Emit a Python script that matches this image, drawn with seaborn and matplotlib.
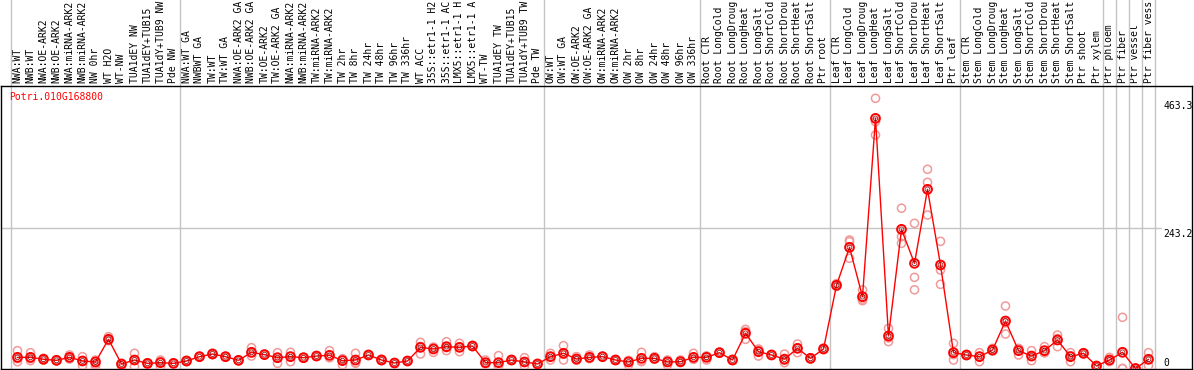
import numpy as np
import pandas as pd
import matplotlib
matplotlib.use("Agg")
import matplotlib.pyplot as plt
import seaborn as sns

title = "Potri.010G168800"

# labels as they appear (clipped to 14 characters in the reference)
categories = [
    "NWA:WT", "NWB:WT", "NWA:OE-ARK2", "NWB:OE-ARK2", "NWA:miRNA-ARK2", "NWB:miRNA-ARK2",
    "NW 0hr", "WT H2O", "WT-NW", "TUA1dEY NW", "TUA1dEY+TUB15", "TUA1dY+TUB9 NW", "Pde NW",
    "NWA:WT GA", "NWBWT GA", "TW:WT", "TW:WT GA", "NWA:OE-ARK2 GA", "NWB:OE-ARK2 GA",
    "TW:OE-ARK2", "TW:OE-ARK2 GA", "NWA:miRNA-ARK2", "NWB:miRNA-ARK2", "TW:miRNA-ARK2",
    "TW:miRNA-ARK2", "TW 2hr", "TW 8hr", "TW 24hr", "TW 48hr", "TW 96hr", "TW 336hr",
    "WT ACC", "35S::etr1-1 H2", "35S::etr1-1 AC", "LMX5::etr1-1 H", "LMX5::etr1-1 A",
    "WT-TW", "TUA1dEY TW", "TUA1dEY+TUB15", "TUA1dY+TUB9 TW", "Pde TW",
    "OW:WT", "OW:WT GA", "OW:OE-ARK2", "OW:OE-ARK2 GA", "OW:miRNA-ARK2", "OW:miRNA-ARK2",
    "OW 2hr", "OW 8hr", "OW 24hr", "OW 48hr", "OW 96hr", "OW 336hr",
    "Root CTR", "Root LongCold", "Root LongDroug", "Root LongHeat", "Root LongSalt",
    "Root ShortCold", "Root ShortDrou", "Root ShortHeat", "Root ShortSalt", "Ptr root",
    "Leaf CTR", "Leaf LongCold", "Leaf LongDroug", "Leaf LongHeat", "Leaf LongSalt",
    "Leaf ShortCold", "Leaf ShortDrou", "Leaf ShortHeat", "Leaf ShortSalt", "Ptr leaf",
    "Stem CTR", "Stem LongCold", "Stem LongDroug", "Stem LongHeat", "Stem LongSalt",
    "Stem ShortCold", "Stem ShortDrou", "Stem ShortHeat", "Stem ShortSalt", "Ptr shoot",
    "Ptr xylem", "Ptr phloem", "Ptr fiber", "Ptr vessel", "Ptr fiber vess",
]

means = [
    19.3, 19.3, 16, 14.1, 19.3, 13, 11.3, 50.5, 7.8, 14.7, 8.9, 10.1, 8.9,
    13, 20.5, 25.1, 20.5, 14.1, 28, 24, 18.7, 20.5, 18.7, 21.6, 22.8, 13.6, 14.7,
    23.4, 14.7, 9.5, 13, 36.6, 33.8, 37.8, 36.6, 38.9, 10.1, 10.1, 14.7, 11.3, 7.8,
    20.5, 26.3, 16.4, 19.3, 20.5, 14.7, 11.3, 17.6, 17.6, 11.3, 11.8, 19.3,
    19.3, 27.4, 14.7, 60.9, 29.1, 23.4, 16.2, 34.9, 17.6, 33.8,
    144, 209.7, 124.3, 433, 56.3, 240.9, 182, 310.1, 179.2, 27.4,
    23.4, 20.5, 32, 82.2, 30.9, 21.6, 30.9, 49.3, 20.5, 26.3, 4.3,
    14.7, 28, 0, 15.9,
]

replicates = [
    [30.9, 11.8, 17], [27.4, 13.6, 17], [17.6, 14.7, 16], [15, 13.6, 14], [23.4, 16.4, 19],
    [20.5, 4.9, 13], [14.7, 7.2, 3.2], [55.1, 48.2, 50], [0.3, 8, 6], [26.3, 3.2, 14.7],
    [9.5, 7.8, 8.9], [14.7, 3.2, 12], [8.9, 8.5, 9.5],
    [13, 12, 14], [21, 20, 20.5], [26.3, 24, 25], [21, 19.5, 20.5], [14.7, 13.6, 14.1],
    [36.1, 21.6, 27], [25, 23.4, 24], [27.4, 8.9, 19], [28, 11.8, 21], [19.3, 18, 18.7],
    [22.2, 21, 21.6], [30.9, 19, 18.7], [6.1, 16, 17], [26.3, 9, 10], [24, 23, 23.4],
    [16, 13.6, 14.7], [10, 9, 9.5], [13.6, 12.5, 13], [45.3, 25.1, 38], [28, 36, 37],
    [46.4, 30.9, 36], [43.6, 29.1, 37], [40, 38, 38.9], [14.7, 8, 7.8], [22.2, 3.2, 5],
    [15.5, 14, 14.7], [18.7, 4.3, 11], [8.5, 7.2, 7.8],
    [14.7, 26.3, 20.5], [39.5, 14.7, 24.5], [20.5, 14, 15], [23.4, 17, 18], [21, 20, 20.5],
    [15.5, 14, 14.7], [6.1, 14, 13.5], [28, 11.8, 13], [20.5, 16, 16.5], [14.7, 6.1, 13],
    [14.7, 10, 11], [26.3, 16, 16],
    [14.7, 21.5, 21.5], [28, 27, 27.4], [15.5, 14, 14.7], [67.8, 50.5, 64], [33.8, 21.6, 32],
    [24, 23, 23.4], [25, 10, 14], [42.4, 27.4, 35], [18.5, 16.5, 17.6], [35, 33, 33.8],
    [146.9, 142, 143], [222.4, 219.5, 190.8], [136.2, 117.4, 120], [467.7, 427.3, 404.2],
    [69.5, 46.5, 53], [277.5, 228.2, 216.7], [251.3, 157.8, 136.2], [344.8, 322.3, 265.7],
    [220.1, 170.5, 145.7], [43.6, 14.7, 24],
    [24, 22.5, 23.4], [27.4, 11.8, 21], [34.9, 30, 31], [108.2, 59.7, 79], [23.4, 35, 34],
    [30.9, 13.6, 21], [37.8, 27, 28], [58, 37.8, 52], [27.4, 11.8, 22], [27, 25.5, 26.3],
    [5, 3.5, 4.3],
    [19.3, 12, 13], [88.6, 0, 0], [0, 0, 0], [27.4, 4.9, 15.5],
]

group_starts = [0, 13, 41, 53, 63, 73, 84, 85, 86, 87, 88]
yticks = [0, 243.2, 463.3]
ytick_labels = ["0", "243.2", "463.3"]

# ---------------------------------------------------------------------------
W, H, DPI = 1194, 370, 100
fig = plt.figure(figsize=(W / DPI, H / DPI), dpi=DPI)
sns.set_style("white")
mono = "DejaVu Sans Mono"

ax_l, ax_r, ax_t, ax_b = 1, 1192, 86, 369
ax = fig.add_axes([ax_l / W, (H - ax_b) / H, (ax_r - ax_l) / W, (ax_b - ax_t) / H])

xs = np.arange(len(categories))
mean_df = pd.DataFrame({"x": xs, "value": means})
rep_df = pd.DataFrame(
    [(i, v) for i, reps in enumerate(replicates) for v in reps], columns=["x", "value"]
)

# pixel mapping: category i centered at 17.5 + 13 i px ; zero at 368.5 px
px_per_cat = 13.0
x0 = 17.5
ax.set_xlim((ax_l - x0) / px_per_cat, (ax_r - x0) / px_per_cat)
ppu = 0.5777
zero_px = 368.5
ax.set_ylim((zero_px - ax_b) / ppu, (zero_px - ax_t) / ppu)

# group separators (extend into the label band)
top_frac = ax_b / (ax_b - ax_t)
for g in group_starts:
    ax.axvline(g - 0.5, ymin=0, ymax=top_frac, color="#c4c4c4", lw=1.0, clip_on=False, zorder=1)

# horizontal grid line
ax.axhline(243.2, xmin=0, xmax=(1161 - ax_l) / (ax_r - ax_l), color="#c4c4c4", lw=1.0, zorder=1)

sns.scatterplot(data=rep_df, x="x", y="value", ax=ax, marker="o", s=34,
                facecolors="none", edgecolor="#f09a9a", linewidth=1.1, zorder=3, legend=False)
sns.lineplot(data=mean_df, x="x", y="value", ax=ax, color="#ff0000", lw=1.0,
             estimator=None, zorder=4, legend=False)
sns.scatterplot(data=mean_df, x="x", y="value", ax=ax, marker="o", s=40,
                facecolors="none", edgecolor="#ff0000", linewidth=1.4, zorder=5, legend=False)
sns.scatterplot(data=mean_df, x="x", y="value", ax=ax, marker="o", s=12,
                facecolors="none", edgecolor="#800000", linewidth=0.5, zorder=6, legend=False)

# top category labels
ax.set_xticks(xs)
ax.set_xticklabels(categories, rotation=90, fontsize=7, family=mono, color="black")
ax.tick_params(axis="x", top=True, labeltop=True, bottom=False, labelbottom=False,
               length=0, pad=2)
ax.set_yticks([])
ax.set_xlabel("")
ax.set_ylabel("")

for sp in ax.spines.values():
    sp.set_visible(True)
    sp.set_color("black")
    sp.set_linewidth(1.0)

# right-side value labels
tx = (1163 - ax_l) / (ax_r - ax_l)
for v, lab in zip(yticks, ytick_labels):
    va = "bottom" if v == 0 else "top"
    ax.text(tx, v + (1.5 if v == 0 else -1), lab, transform=ax.get_yaxis_transform(),
            ha="left", va=va, fontsize=7, family=mono, color="black")

# gene id title
ax.text((9 - ax_l) / (ax_r - ax_l), (ax_b - 97.5) / (ax_b - ax_t), title,
        transform=ax.transAxes, ha="left", va="center", fontsize=7, family=mono, color="red")

fig.savefig("out.png", dpi=DPI)
